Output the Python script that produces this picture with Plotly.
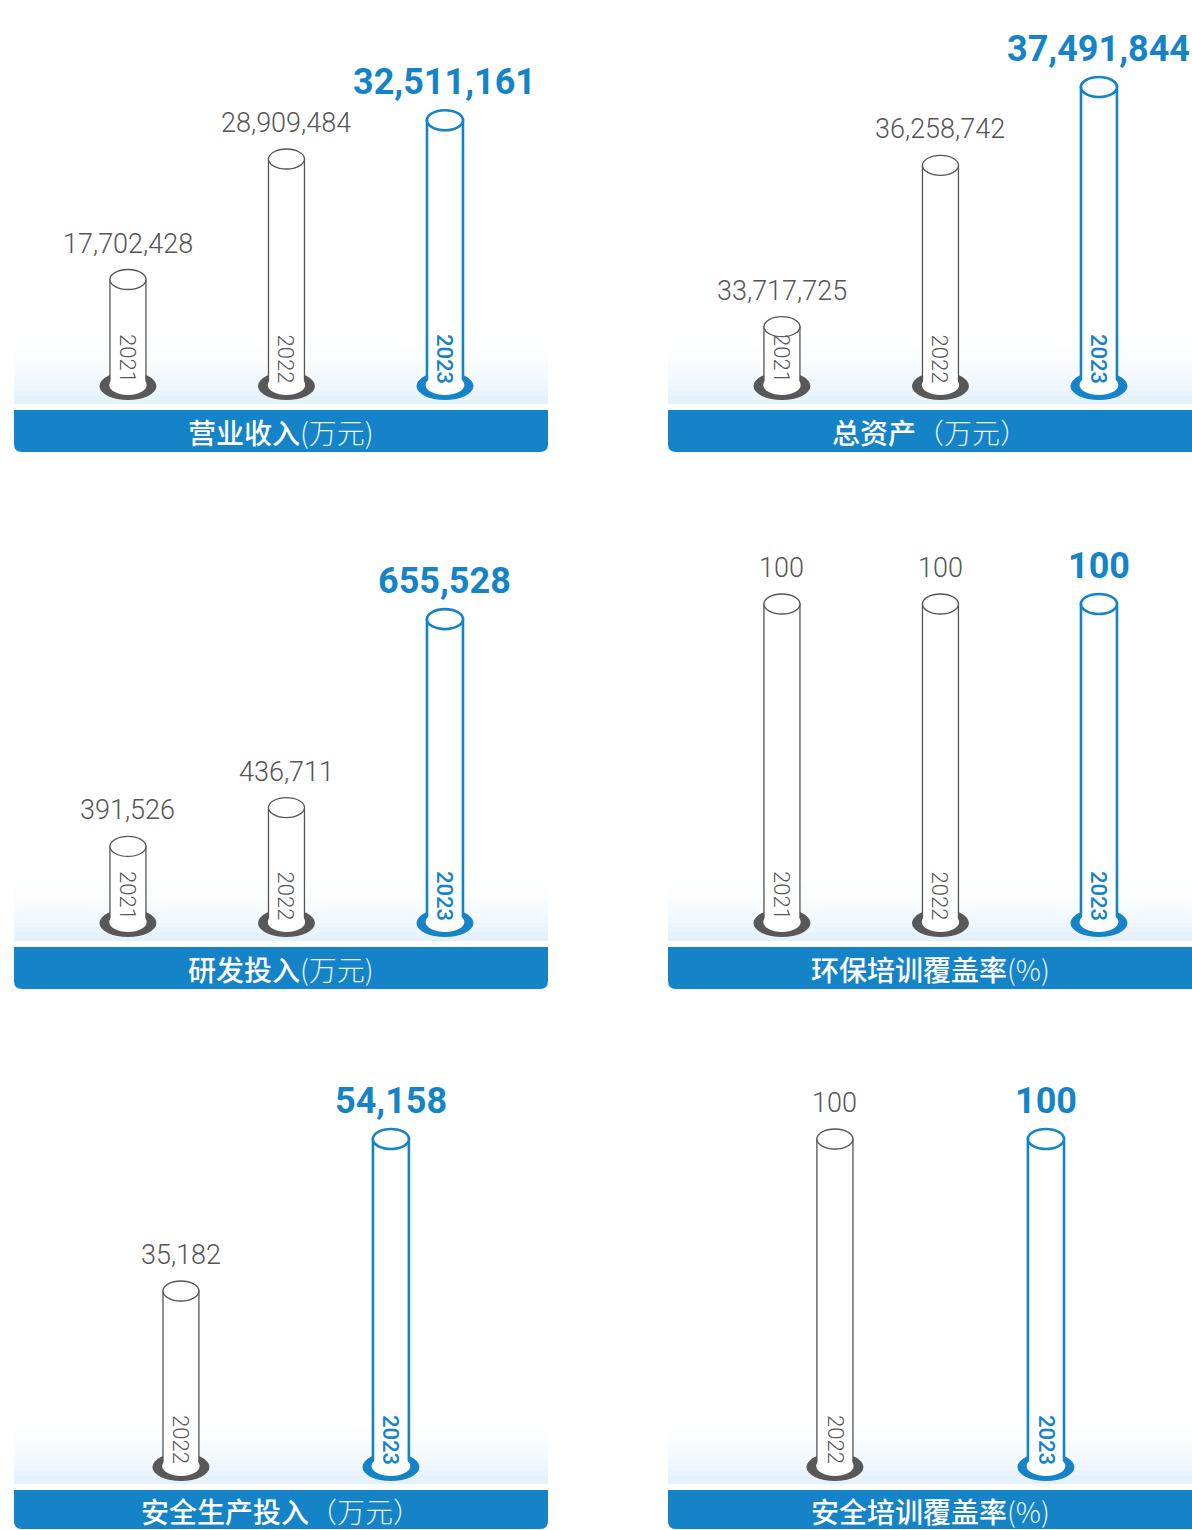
import plotly.graph_objects as go

W, H = 1192, 1530

# ---------------- data ----------------
years_revenue = ["2021", "2022", "2023"]
revenue = [17702428, 28909484, 32511161]

years_assets = ["2021", "2022", "2023"]
total_assets = [33717725, 36258742, 37491844]

years_rd = ["2021", "2022", "2023"]
rd_invest = [391526, 436711, 655528]

years_env = ["2021", "2022", "2023"]
env_training_rate = [100, 100, 100]

years_safety = ["2022", "2023"]
safety_invest = [35182, 54158]

years_safety_tr = ["2022", "2023"]
safety_training_rate = [100, 100]

title_names = ["营业收入", "总资产", "研发投入", "环保培训覆盖率", "安全生产投入", "安全培训覆盖率"]
title_units = ["(万元)", "（万元）", "(万元)", "(%)", "（万元）", "(%)"]

# ---------------- style ----------------
BLUE = "#1483c7"
GRAY = "#555555"
SHADOW_GRAY = "#585858"
NUM_FONT = "Roboto"
CJK_FONT = "Noto Sans CJK SC"


def px_x(p):
    return p / W


def px_y(p):
    return 1 - p / H


# panel layout: x pixel span, y pixel span (top, bottom), baseline value, axis range, x range
panels = [
    dict(years=years_revenue, values=revenue, xspan=(14, 548), yspan=(0, 405), rng=(6.03e6, 43.70e6),
         base=7.89e6, xr=(-0.719, 2.650), bw=0.227, banner=(410, 452)),
    dict(years=years_assets, values=total_assets, xspan=(668, 1192), yspan=(0, 405), rng=(32.485e6, 38.863e6),
         base=32.80e6, xr=(-0.719, 2.587), bw=0.227, banner=(410, 452)),
    dict(years=years_rd, values=rd_invest, xspan=(14, 548), yspan=(500, 942), rng=(280574, 793870),
         base=303800, xr=(-0.719, 2.650), bw=0.227, banner=(947, 989)),
    dict(years=years_env, values=env_training_rate, xspan=(668, 1192), yspan=(500, 942), rng=(-6.29, 132.70),
         base=0, xr=(-0.719, 2.587), bw=0.227, banner=(947, 989)),
    dict(years=years_safety, values=safety_invest, xspan=(14, 548), yspan=(1040, 1486), rng=(10838, 66518),
         base=13335, xr=(-0.795, 1.748), bw=0.171, banner=(1490, 1529)),
    dict(years=years_safety_tr, values=safety_training_rate, xspan=(668, 1192), yspan=(1040, 1486), rng=(-6.12, 130.28),
         base=0, xr=(-0.791, 1.692), bw=0.171, banner=(1490, 1529)),
]

fig = go.Figure()
shapes = []
annotations = []
layout_axes = {}

for k, p in enumerate(panels, start=1):
    xa = "x" if k == 1 else f"x{k}"
    ya = "y" if k == 1 else f"y{k}"
    years, values, base = p["years"], p["values"], p["base"]
    n = len(years)
    colors = [GRAY] * (n - 1) + [BLUE]
    lw = [1.3] * (n - 1) + [2.6]

    # banner + gradient (background decoration)
    x0, x1 = p["xspan"]
    bx1 = x1 if x1 < W else W + 20
    b_top, b_bot = p["banner"]
    g_bot = b_top - 6
    g_top = g_bot - 66
    nstrip = 14
    for s in range(nstrip):
        t0 = g_top + (g_bot - g_top) * s / nstrip
        t1 = g_top + (g_bot - g_top) * (s + 1) / nstrip
        a = ((s + 1) / nstrip) ** 1.8
        shapes.append(dict(type="rect", xref="paper", yref="paper",
                           x0=px_x(x0), x1=px_x(bx1), y0=px_y(t1), y1=px_y(t0),
                           fillcolor=f"rgba(228,241,251,{a:.3f})", line=dict(width=0), layer="below"))
    r = 8
    rx, ry = r / W, r / H
    L, R, T, B = px_x(x0), px_x(bx1), px_y(b_top), px_y(b_bot)
    path = (f"M {L},{T} L {R},{T} L {R},{B + ry} Q {R},{B} {R - rx},{B} "
            f"L {L + rx},{B} Q {L},{B} {L},{B + ry} Z")
    shapes.append(dict(type="path", xref="paper", yref="paper", path=path,
                       fillcolor=BLUE, line=dict(width=0), layer="below"))
    title_text = (f"<span style='font-weight:500'>{title_names[k - 1]}</span>"
                  f"<span style='font-weight:300;color:rgba(255,255,255,0.92)'>{title_units[k - 1]}</span>")
    annotations.append(dict(xref="paper", yref="paper", x=px_x((x0 + min(x1, W)) / 2),
                            y=px_y((b_top + b_bot) / 2 + 1), text=title_text, showarrow=False,
                            xanchor="center", yanchor="middle",
                            font=dict(family=CJK_FONT, size=28, color="white")))

    # cylinder bodies
    fig.add_trace(go.Bar(
        x=years, y=[v - base for v in values], base=base, width=p["bw"],
        marker=dict(color="white", line=dict(color=colors, width=lw)),
        xaxis=xa, yaxis=ya, hoverinfo="skip", showlegend=False,
    ))

    for i, (yr, v) in enumerate(zip(years, values)):
        c = colors[i]
        is_last = i == n - 1
        # shadow base
        shapes.append(dict(type="circle", xref=xa, yref=ya, xsizemode="pixel", ysizemode="pixel",
                           xanchor=i, yanchor=base, x0=-28.5, x1=28.5, y0=-15, y1=13,
                           fillcolor=BLUE if is_last else SHADOW_GRAY, line=dict(width=0), layer="below"))
        # rounded bottom of body
        half = 19.4 if is_last else 18.7
        shapes.append(dict(type="circle", xref=xa, yref=ya, xsizemode="pixel", ysizemode="pixel",
                           xanchor=i, yanchor=base, x0=-half, x1=half, y0=-10, y1=10,
                           fillcolor="white", line=dict(width=0), layer="above"))
        # top ellipse
        shapes.append(dict(type="circle", xref=xa, yref=ya, xsizemode="pixel", ysizemode="pixel",
                           xanchor=i, yanchor=v, x0=-18, x1=18, y0=-10, y1=10,
                           fillcolor="white", line=dict(color=c, width=lw[i]), layer="above"))
        # year label (rotated)
        annotations.append(dict(xref=xa, yref=ya, x=i, y=base, yshift=26, text=yr, textangle=90,
                                showarrow=False, xanchor="center", yanchor="middle",
                                font=dict(family=NUM_FONT, size=22, color=c,
                                          weight=500 if is_last else 300)))
        # value label
        annotations.append(dict(xref=xa, yref=ya, x=i, y=v, yshift=38 if is_last else 36,
                                text=f"{v:,}", showarrow=False, xanchor="center", yanchor="middle",
                                font=dict(family=NUM_FONT, size=36 if is_last else 27, color=c,
                                          weight=700 if is_last else 300)))

    layout_axes[f"xaxis{k}" if k > 1 else "xaxis"] = dict(
        domain=[px_x(x0), px_x(min(x1, W))], type="category", range=list(p["xr"]),
        visible=False, fixedrange=True, anchor=ya)
    ty, by = p["yspan"]
    layout_axes[f"yaxis{k}" if k > 1 else "yaxis"] = dict(
        domain=[px_y(by), px_y(ty)], range=list(p["rng"]), visible=False, fixedrange=True, anchor=xa)

fig.update_layout(
    width=W, height=H, margin=dict(l=0, r=0, t=0, b=0),
    paper_bgcolor="white", plot_bgcolor="rgba(0,0,0,0)",
    showlegend=False, shapes=shapes, annotations=annotations,
    **layout_axes,
)

fig.write_html("out.html", config={"displayModeBar": False},
               post_script="document.body.style.margin='0';")
